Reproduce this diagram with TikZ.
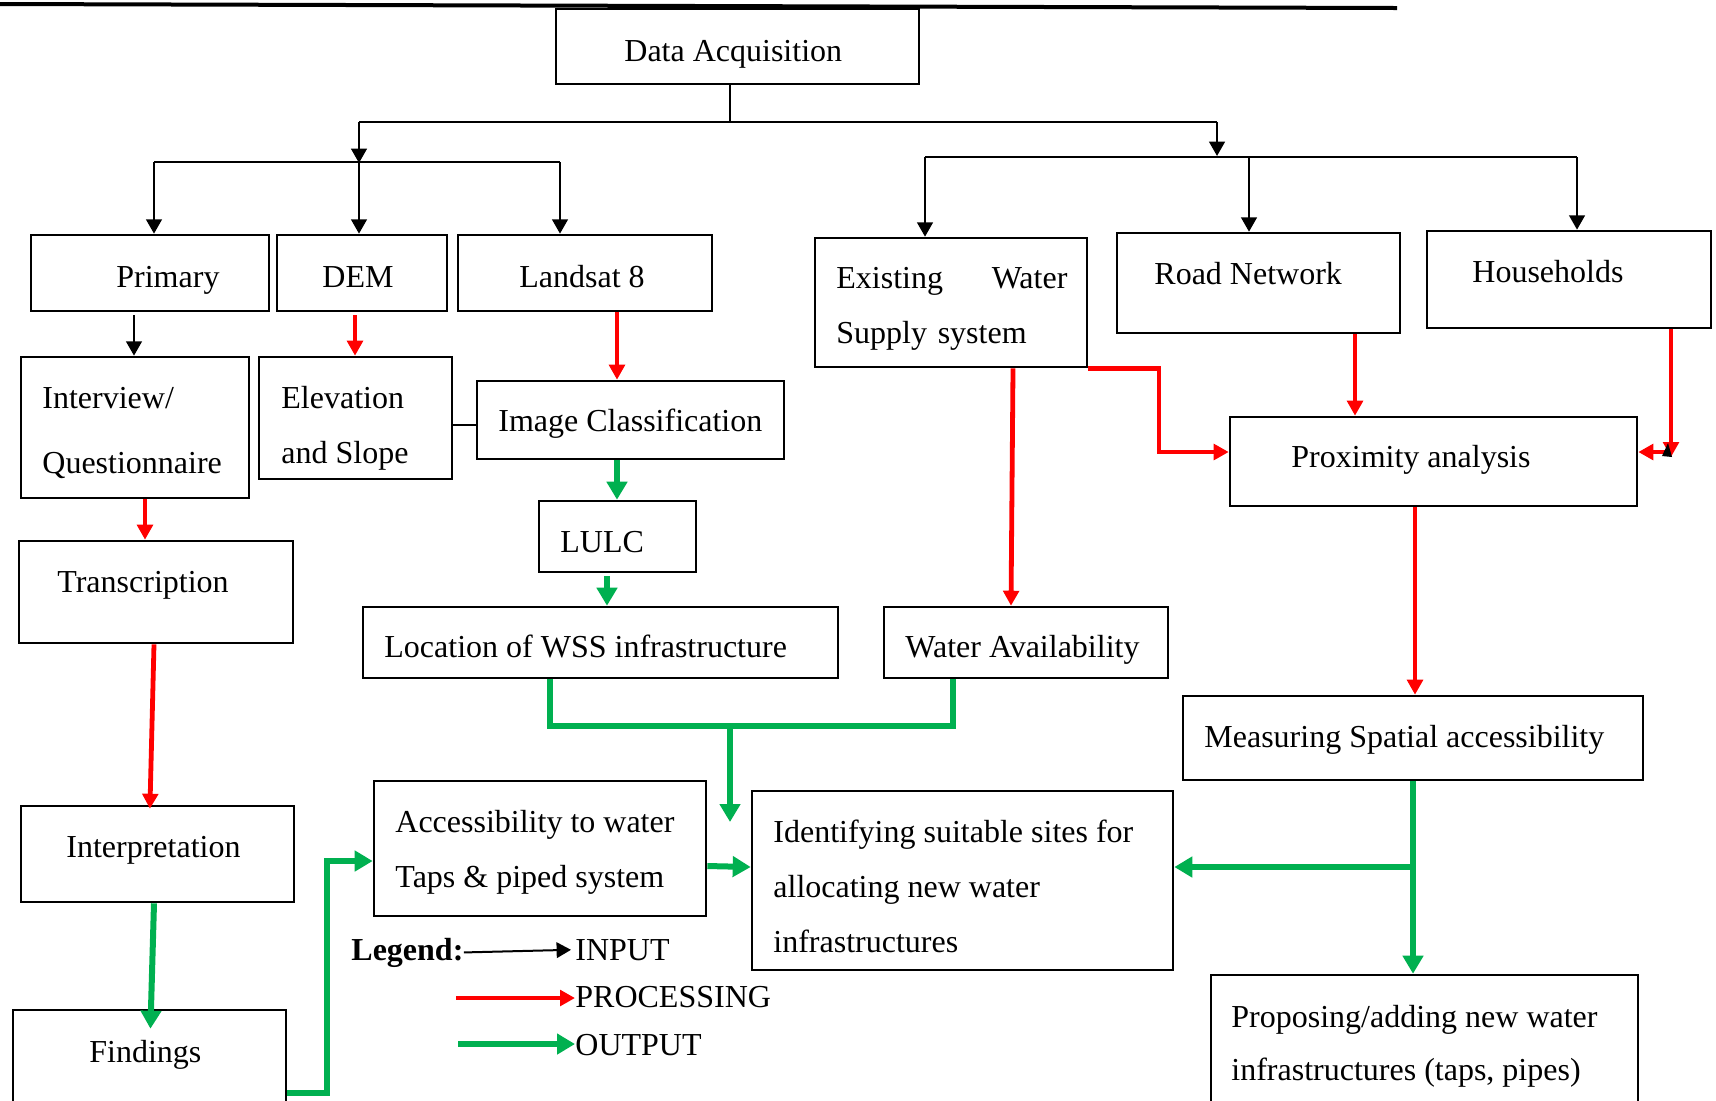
\documentclass[tikz,border=0pt]{standalone}
\usepackage{fontspec}
\setmainfont{Liberation Serif}
\usetikzlibrary{arrows.meta,fit}
\definecolor{fred}{RGB}{255,0,0}
\definecolor{fgreen}{RGB}{0,176,80}
\begin{document}
\begin{tikzpicture}[x=0.5pt,y=-0.5pt,
  box/.style={draw=black,line width=1.3pt,inner sep=0pt},
  txt/.style={anchor=base west,inner sep=0pt,font=\fontsize{16}{27.5}\selectfont,align=left},
  blk/.style={draw=black,line width=1.3pt},
  blkarr/.style={blk,-{Triangle[length=7.2pt,width=7.8pt]}},
  redarr/.style={draw=fred,line width=2.4pt,-{Triangle[length=7.5pt,width=7.8pt]}},
  grn/.style={draw=fgreen,line width=3pt},
  grnarr/.style={grn,-{Triangle[length=9pt,width=10pt]}}]
\useasboundingbox (0,0) rectangle (1716,1100);
\begin{scope}
\clip (0,0) rectangle (1716,1100);
\draw[line width=2pt] (0,4) -- (1397,8);
% boxes
\node[box,fit={(556,9) (919,84)}] (da) {};
\node[box,fit={(31,235) (269,311)}] (primary) {};
\node[box,fit={(277,235) (447,311)}] (dem) {};
\node[box,fit={(458,235) (712,311)}] (landsat) {};
\node[box,fit={(815,238) (1087,367)}] (ews) {};
\node[box,fit={(1117,233) (1400,333)}] (road) {};
\node[box,fit={(1427,231) (1711,328)}] (hh) {};
\node[box,fit={(21,357) (249,498)}] (interview) {};
\node[box,fit={(259,357) (452,479)}] (elev) {};
\node[box,fit={(477,381) (784,459)}] (imgc) {};
\node[box,fit={(1230,417) (1637,506)}] (prox) {};
\node[box,fit={(19,541) (293,643)}] (trans) {};
\node[box,fit={(539,501) (696,572)}] (lulc) {};
\node[box,fit={(363,607) (838,678)}] (loc) {};
\node[box,fit={(884,607) (1168,678)}] (wa) {};
\node[box,fit={(1183,696) (1643,780)}] (meas) {};
\node[box,fit={(21,806) (294,902)}] (interp) {};
\node[box,fit={(374,781) (706,916)}] (access) {};
\node[box,fit={(752,791) (1173,970)}] (ident) {};
\node[box,fit={(13,1010) (286,1130)}] (findings) {};
\node[box,fit={(1211,975) (1638,1130)}] (prop) {};
% texts (multi-line nodes are placed by the baseline of their last line)
\node[txt] (daT) at (624,61) {Data Acquisition};
\node[txt] (primaryT) at (116,287) {Primary};
\node[txt] (demT) at (322,287) {DEM};
\node[txt] (landsatT) at (519,287) {Landsat 8};
\node[txt,text width=115.5pt] (ewsT) at (836,288) {Existing\hfill Water\\Supply system};
\node[txt] (roadT) at (1154,284) {Road Network};
\node[txt] (hhT) at (1472,282) {Households};
\node[txt] (interviewT) at (42,473) {Interview/\\[5pt]Questionnaire};
\node[txt] (elevT) at (281,463) {Elevation\\and Slope};
\node[txt] (imgcT) at (498,431) {Image Classification};
\node[txt] (proxT) at (1291,467) {Proximity analysis};
\node[txt] (transT) at (57,592) {Transcription};
\node[txt] (lulcT) at (560,552) {LULC};
\node[txt] (locT) at (384,657) {Location of WSS infrastructure};
\node[txt] (waT) at (905,657) {Water Availability};
\node[txt] (measT) at (1204,747) {Measuring Spatial accessibility};
\node[txt] (interpT) at (66,857) {Interpretation};
\node[txt] (accessT) at (395,887) {Accessibility to water\\Taps \& piped system};
\node[txt] (identT) at (773,952) {Identifying suitable sites for\\allocating new water\\infrastructures};
\node[txt] (propT) at (1231,1080) {Proposing/adding new water\\[-1pt]infrastructures (taps, pipes)};
\node[txt] (findingsT) at (89,1062) {Findings};
% input tree
\coordinate (j0) at (730,122);
\coordinate (jl) at (359,122);
\coordinate (jr) at (1217,122);
\coordinate (lt) at (359,163);
\coordinate (rt) at (1217,156);
\coordinate (la) at (154,162);
\coordinate (lb) at (359,162);
\coordinate (lc) at (560,162);
\coordinate (ra) at (925,157);
\coordinate (rb) at (1249,157);
\coordinate (rc) at (1577,157);
\draw[blk] (730,0 |- da.south) -- (j0);
\draw[blk] (jl) -- (jr);
\draw[blkarr] (jl) -- (lt);
\draw[blkarr] (jr) -- (rt);
\draw[blk] (la) -- (lc);
\draw[blk] (ra) -- (rc);
\draw[blkarr] (la) -- (la |- primary.north);
\draw[blkarr] (lb) -- (lb |- dem.north);
\draw[blkarr] (lc) -- (lc |- landsat.north);
\draw[blkarr] (ra) -- (ra |- ews.north);
\draw[blkarr] (rb) -- (rb |- road.north);
\draw[blkarr] (rc) -- (rc |- hh.north);
\draw[blkarr,shorten <=1.5pt] (134,0 |- primary.south) -- (134,0 |- interview.north);
\draw[blk] (elev.east |- 0,425) -- (imgc.west |- 0,425);
% processing
\draw[redarr,shorten <=1.5pt] (355,0 |- dem.south) -- (355,0 |- elev.north);
\draw[redarr] (617,0 |- landsat.south) -- (617,0 |- imgc.north);
\draw[redarr] (145,0 |- interview.south) -- (145,0 |- trans.north);
\draw[redarr,shorten >=-2pt] (154,0 |- trans.south) -- (150,0 |- interp.north);
\draw[redarr] (1013,0 |- ews.south) -- (1011,0 |- wa.north);
\draw[redarr] (ews.south east) -| (1159,452) -- (prox.west |- 0,452);
\draw[redarr] (1355,0 |- road.south) -- (1355,0 |- prox.north);
\coordinate (hv) at (1671,457);
\coordinate (hj) at (1669,452);
\draw[redarr] (1671,0 |- hh.south) -- (hv);
\draw[redarr] (hj) -- (prox.east |- hj);
\fill[black] (1668,443) -- (1662,456) -- (1672,457) -- cycle;
\draw[redarr] (1415,0 |- prox.south) -- (1415,0 |- meas.north);
% output
\draw[grnarr] (617,0 |- imgc.south) -- (617,0 |- lulc.north);
\draw[grnarr,shorten <=1.5pt] (607,0 |- lulc.south) -- (607,0 |- loc.north);
\coordinate (gj) at (953,726);
\coordinate (gb) at (730,726);
\coordinate (gd) at (730,822);
\draw[grn] (550,0 |- loc.south) |- (gj) -- (953,0 |- wa.south);
\draw[grnarr] (gb) -- (gd);
\draw[grnarr,shorten >=-10pt] (154,0 |- interp.south) -- (151,0 |- findings.north);
\draw[grnarr] (findings.east |- 0,1093) -| (327,861) -- (access.west |- 0,861);
\draw[grnarr] (access.east |- 0,866) -- (ident.west |- 0,867);
\coordinate (mb) at (1413,867);
\draw[grnarr] (1413,0 |- meas.south) -- (1413,0 |- prop.north);
\draw[grnarr] (mb) -- (ident.east |- mb);
% legend
\node[txt,font=\fontsize{16}{27.5}\selectfont\bfseries] (legT) at (351,960) {Legend:};
\node[txt] (inT) at (575,960) {INPUT};
\node[txt] (procT) at (575,1007) {PROCESSING};
\node[txt] (outT) at (575,1055) {OUTPUT};
\draw[blkarr,line width=1pt,shorten >=2pt] (legT.east) -- (inT.west);
\coordinate (pr0) at (456,998);
\coordinate (go0) at (458,1044);
\draw[redarr] (pr0) -- (procT.west |- pr0);
\draw[grnarr] (go0) -- (outT.west |- go0);
\end{scope}
\end{tikzpicture}
\end{document}
